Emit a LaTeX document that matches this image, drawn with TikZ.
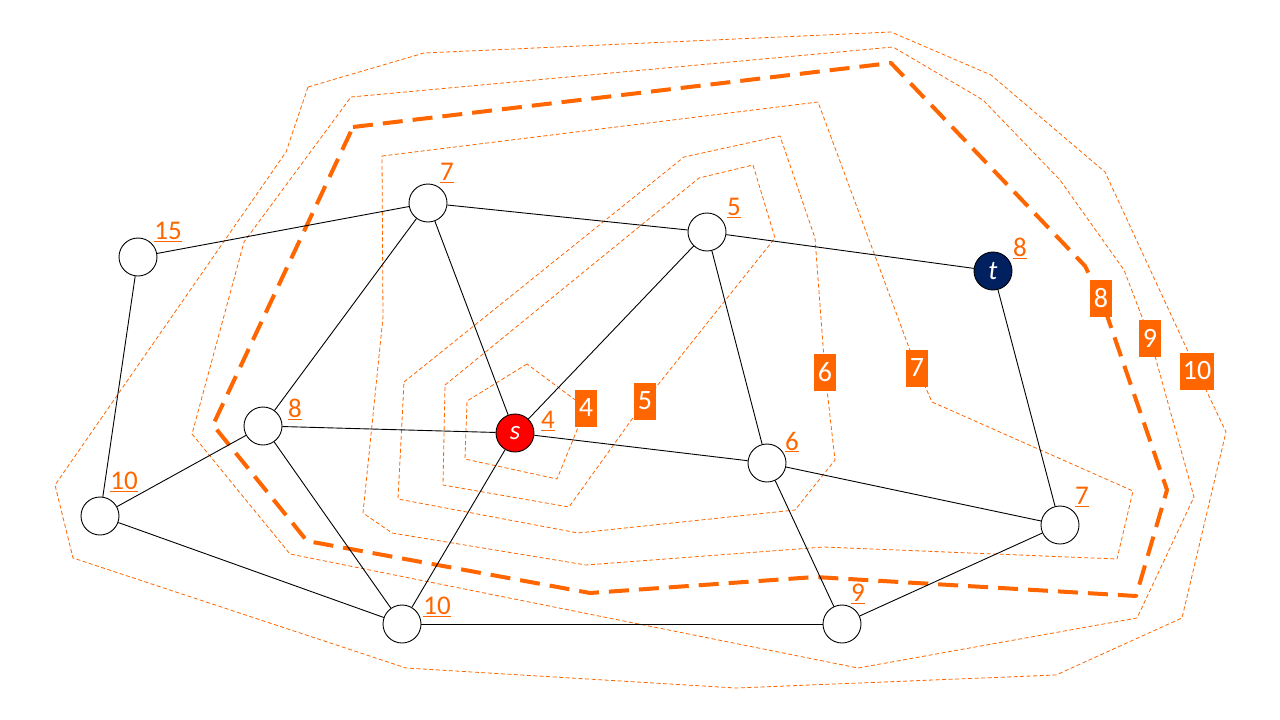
\documentclass[tikz,border=0pt]{standalone}
\usepackage{fontspec}
\setmainfont{Carlito}
\definecolor{orng}{HTML}{FF6600}
\definecolor{navy}{HTML}{002060}
\definecolor{sred}{HTML}{FF0000}
\begin{document}
\begin{tikzpicture}[x=1pt,y=-1pt,
  vtx/.style={circle,draw=black,line width=0.9pt,minimum size=38pt,inner sep=0pt,fill=white,
    font=\fontsize{27}{30}\selectfont\itshape,text=white},
  edge/.style={draw=black,line width=0.9pt},
  dist/.style={text=orng,font=\fontsize{27}{30}\selectfont,inner sep=0pt},
  lvl/.style={fill=orng,text=white,font=\fontsize{28}{32}\selectfont,minimum height=37pt,minimum width=22pt,inner xsep=3pt,inner ysep=0pt},
  cont/.style={draw=orng,line width=0.8pt,dash pattern=on 4pt off 2.5pt,line join=round},
  thickcont/.style={draw=orng,line width=4pt,dash pattern=on 20pt off 10pt,line join=round}]
\useasboundingbox (0,0) rectangle (1280,720);
% label coordinates
\coordinate (L4) at (586,408);
\coordinate (L5) at (645,401);
\coordinate (L6) at (825,372);
\coordinate (L7) at (917,368);
\coordinate (L8) at (1101,298);
\coordinate (L9) at (1150,338);
\coordinate (L10) at (1197,371);
% contours
\draw[cont] (527,364) -- (467,401) -- (465,459) -- (557,479) -- (L4) -- cycle;
\draw[cont] (445,385) -- (699,178) -- (753,165) -- (775,238) -- (L5) -- (569,507) -- (443,485) -- cycle;
\draw[cont] (404,382) -- (684,157) -- (780,136) -- (815,238) -- (L6) -- (835,460) -- (795,510) -- (578,533) -- (398,499) -- cycle;
\draw[cont] (382,156) -- (818,102) -- (911,353) -- (L7) -- (932,402) -- (1133,491) -- (1117,559) -- (824,547) -- (586,565) -- (392,533) -- (363,513) -- (383,317) -- cycle;
\draw[thickcont] (353,127) -- (891,63) -- (1085,266) -- (L8) -- (1167,490) -- (1136,596) -- (815,577) -- (590,593) -- (307,541) -- (213,425) -- cycle;
\draw[cont] (351,97) -- (893,47) -- (983,100) -- (1060,180) -- (1124,270) -- (L9) -- (1194,497) -- (1137,618) -- (858,668) -- (290,554) -- (192,434) -- (244,242) -- cycle;
\draw[cont] (308,87) -- (424,53) -- (891,32) -- (991,75) -- (1105,172) -- (L10) -- (1226,432) -- (1182,618) -- (1056,675) -- (736,688) -- (406,668) -- (73,558) -- (55,485) -- (286,152) -- cycle;
% nodes
\node[vtx] (A) at (138,257) {};
\node[vtx] (B) at (428,203) {};
\node[vtx] (C) at (707,232) {};
\node[vtx,fill=navy] (t) at (993,271) {t};
\node[vtx] (D) at (263,426) {};
\node[vtx,fill=sred] (s) at (515,433) {s};
\node[vtx] (E) at (100,516) {};
\node[vtx] (F) at (767,463) {};
\node[vtx] (G) at (1060,525) {};
\node[vtx] (H) at (402,624) {};
\node[vtx] (I) at (842,624) {};
% edges
\draw[edge] (A) -- (B);
\draw[edge] (B) -- (C);
\draw[edge] (C) -- (t);
\draw[edge] (A) -- (E);
\draw[edge] (B) -- (D);
\draw[edge] (B) -- (s);
\draw[edge] (C) -- (s);
\draw[edge] (C) -- (F);
\draw[edge] (t) -- (G);
\draw[edge] (D) -- (s);
\draw[edge] (D) -- (E);
\draw[edge] (D) -- (H);
\draw[edge] (s) -- (F);
\draw[edge] (s) -- (H);
\draw[edge] (F) -- (G);
\draw[edge] (F) -- (I);
\draw[edge] (G) -- (I);
\draw[edge] (E) -- (H);
\draw[edge] (H) -- (I);
% distance labels
\node[dist] (dA) at (168,232) {\underline{15}};
\node[dist] (dB) at (447,173) {\underline{7}};
\node[dist] (dC) at (734,208) {\underline{5}};
\node[dist] (dt) at (1020,248) {\underline{8}};
\node[dist] (dD) at (295,409) {\underline{8}};
\node[dist] (ds) at (548,421) {\underline{4}};
\node[dist] (dE) at (124,482) {\underline{10}};
\node[dist] (dF) at (792,442) {\underline{6}};
\node[dist] (dG) at (1082,497) {\underline{7}};
\node[dist] (dH) at (437,607) {\underline{10}};
\node[dist] (dI) at (858,594) {\underline{9}};
% contour labels
\node[lvl] (l4) at (L4) {4};
\node[lvl] (l5) at (L5) {5};
\node[lvl] (l6) at (L6) {6};
\node[lvl] (l7) at (L7) {7};
\node[lvl] (l8) at (L8) {8};
\node[lvl] (l9) at (L9) {9};
\node[lvl] (l10) at (L10) {10};
\end{tikzpicture}
\end{document}
